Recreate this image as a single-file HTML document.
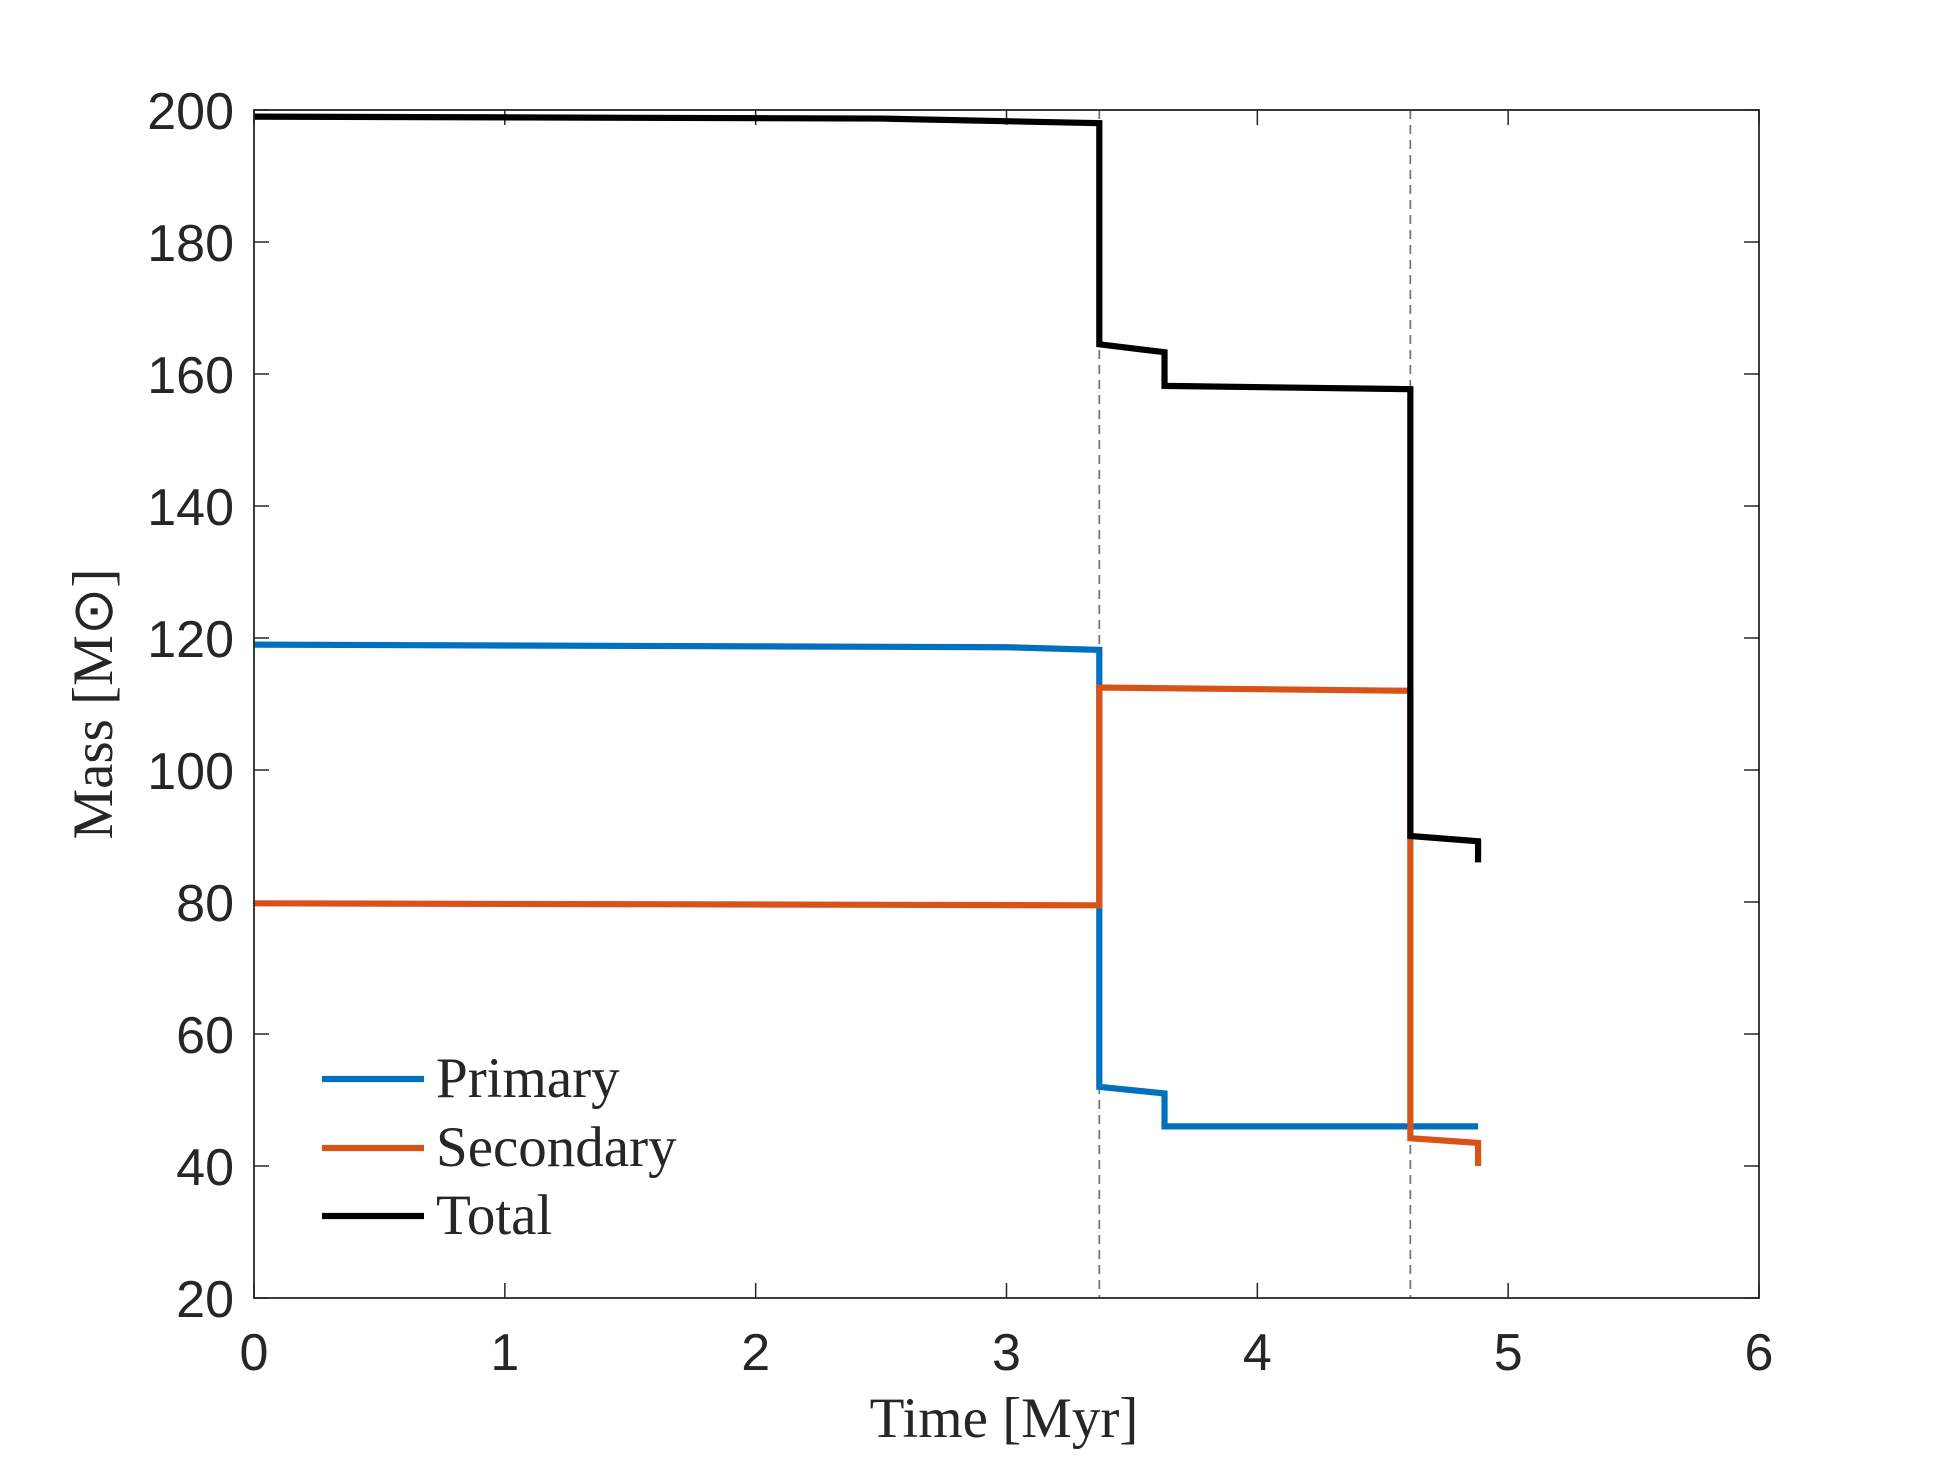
<!DOCTYPE html>
<html><head><meta charset="utf-8"><style>
html,body{margin:0;padding:0;background:#fff;}
svg{display:block;}
.tick{font-family:"Liberation Sans",sans-serif;font-size:52px;fill:#262626;}
.lab{font-family:"Liberation Serif",serif;font-size:57px;fill:#262626;}
</style></head><body>
<svg id="chart" width="1944" height="1458" viewBox="0 0 1944 1458" xmlns="http://www.w3.org/2000/svg">
<rect width="1944" height="1458" fill="#fff"/>
<g id="plot"></g>
</svg>
<script>
const xTicks=[0,1,2,3,4,5,6];
const yTicks=[20,40,60,80,100,120,140,160,180,200];
const eventTimes=[3.37,4.61];
const seriesNames=["Primary","Secondary","Total"];
const seriesColors=["#0072BD","#D95319","#000000"];
const primaryT=[0,3.0,3.37,3.37,3.63,3.63,4.88];
const primaryM=[119,118.6,118.2,52,51,46,46];
const secondaryT=[0,3.37,3.37,4.61,4.61,4.88,4.88];
const secondaryM=[79.8,79.5,112.5,112,44.2,43.5,40];
const totalT=[0,2.5,3.37,3.37,3.63,3.63,4.61,4.61,4.88,4.88];
const totalM=[199,198.7,198,164.5,163.3,158.2,157.7,90,89.2,86];

const L=254,R=1759,T=110,B=1298;
const x=v=>L+(v-0)/(6-0)*(R-L);
const y=v=>B-(v-20)/(200-20)*(B-T);
const NS="http://www.w3.org/2000/svg";
const g=document.getElementById('plot');
function mk(tag,attrs,parent){const e=document.createElementNS(NS,tag);for(const k in attrs)e.setAttribute(k,attrs[k]);(parent||g).appendChild(e);return e;}

xTicks.forEach(t=>{
  const l1=mk('line',{x1:x(t),x2:x(t),y1:B,y2:B-15,stroke:'#262626','stroke-width':1.5});
  
  
  const l2=mk('line',{x1:x(t),x2:x(t),y1:T,y2:T+15,stroke:'#262626','stroke-width':1.5});
  
  
  const tx=mk('text',{x:x(t),y:1370,'text-anchor':'middle',class:'tick'});
  tx.textContent=t;
  
  
});
yTicks.forEach(t=>{
  const l1=mk('line',{x1:L,x2:L+15,y1:y(t),y2:y(t),stroke:'#262626','stroke-width':1.5});
  
  
  const l2=mk('line',{x1:R,x2:R-15,y1:y(t),y2:y(t),stroke:'#262626','stroke-width':1.5});
  
  
  const tx=mk('text',{x:234,y:y(t)+19,'text-anchor':'end',class:'tick'});
  tx.textContent=t;
  
  
});
eventTimes.forEach(t=>{
  const l=mk('line',{x1:x(t),x2:x(t),y1:T,y2:B,stroke:'#777','stroke-width':1.8,'stroke-dasharray':'9,6'});
  
  
});
const data=[[primaryT,primaryM],[secondaryT,secondaryM],[totalT,totalM]];
data.forEach((d,i)=>{
  const pts=d[0].map((t,j)=>x(t)+','+y(d[1][j])).join(' ');
  const p=mk('polyline',{points:pts,fill:'none',stroke:seriesColors[i],'stroke-width':6.2,'stroke-linejoin':'miter'});
  
  
});
const box=mk('rect',{x:L,y:T,width:R-L,height:B-T,fill:'none',stroke:'#262626','stroke-width':1.8});


const legY=[1079,1148,1216];
seriesNames.forEach((n,i)=>{
  const l=mk('line',{x1:322,x2:424,y1:legY[i],y2:legY[i],stroke:seriesColors[i],'stroke-width':6.2});
  
  
  const tx=mk('text',{x:436,y:legY[i]+18,class:'lab'});
  tx.textContent=n;
  
  
});
const xl=mk('text',{x:1004,y:1437,'text-anchor':'middle',class:'lab'});
xl.textContent='Time [Myr]';


const yl=mk('text',{x:0,y:0,'text-anchor':'middle',class:'lab',transform:'translate(112,704) rotate(-90)'});
yl.textContent='Mass [M\u2299]';


</script>
</body></html>
